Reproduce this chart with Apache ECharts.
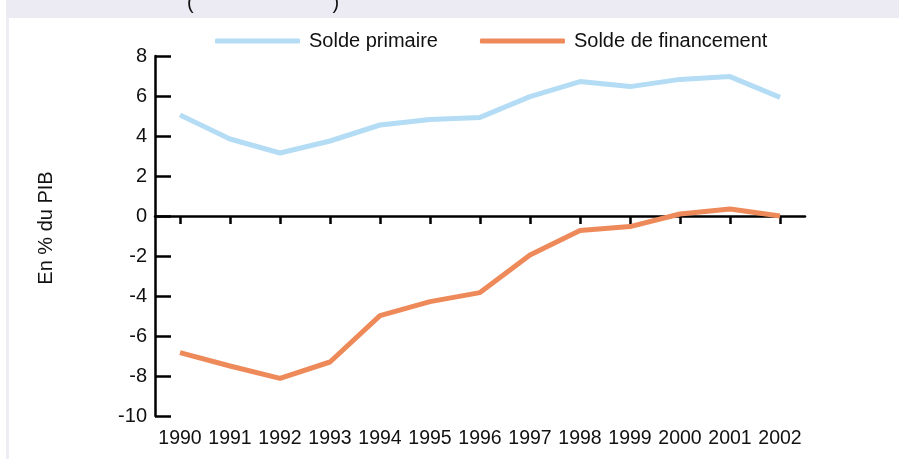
<!DOCTYPE html>
<html>
<head>
<meta charset="utf-8">
<script src="https://cdn.jsdelivr.net/npm/echarts@6/dist/echarts.min.js"></script>
<style>
  html, body { margin: 0; padding: 0; background: #ffffff; }
  #chart { width: 899px; height: 459px; }
</style>
</head>
<body>
<div id="chart"></div>
<script>
// années
var years = ['1990', '1991', '1992', '1993', '1994', '1995', '1996', '1997', '1998', '1999', '2000', '2001', '2002'];
// solde primaire, en % du PIB
var soldePrimaire = [5.05, 3.85, 3.15, 3.75, 4.55, 4.83, 4.93, 5.97, 6.72, 6.47, 6.83, 6.97, 5.93];
// solde de financement, en % du PIB
var soldeFinancement = [-6.83, -7.5, -8.12, -7.3, -4.98, -4.28, -3.83, -1.95, -0.73, -0.53, 0.1, 0.35, 0.0];
var seriesNames = ['Solde primaire', 'Solde de financement'];
var yTicks = { min: -10, max: 8, interval: 2 };

var font = 'Liberation Sans, Arial, sans-serif';
var chart = echarts.init(document.getElementById('chart'), null, { renderer: 'canvas' });

var option = {
  backgroundColor: '#ffffff',
  animation: false,
  color: ['#B4DDF5', '#EE8A5A'],
  graphic: [
    // bandeau gris du haut
    { type: 'rect', left: 6, top: 0, shape: { width: 893, height: 18 }, style: { fill: '#ECEBF4' }, z: 0 },
    // bordure gauche
    { type: 'rect', left: 6, top: 18, shape: { width: 3, height: 441 }, style: { fill: '#EEEDF5' }, z: 0 },
    // titre coupé
    {
      type: 'text', x: 187, y: 3, z: 10,
      style: { text: '(                         )', font: '20px ' + font, fill: '#111111', align: 'left', verticalAlign: 'middle' }
    },
    // titre de l'axe Y
    {
      type: 'text', x: 46, y: 228, rotation: Math.PI / 2, z: 10,
      style: { text: 'En % du PIB', font: '20px ' + font, fill: '#111111', align: 'center', verticalAlign: 'middle' }
    }
  ],
  legend: {
    left: 210,
    top: 26,
    itemWidth: 85,
    itemHeight: 5,
    itemGap: 42,
    icon: 'roundRect',
    textStyle: { fontSize: 20, fontFamily: font, color: '#111111', padding: [8, 0, 0, 4] },
    data: seriesNames
  },
  grid: {
    left: 155,
    right: 94,
    top: 56,
    bottom: 43,
    containLabel: false
  },
  xAxis: [
    {
      // axe sur le zéro : ligne et graduations
      type: 'category',
      data: years,
      position: 'bottom',
      axisLine: { onZero: true, lineStyle: { color: '#000000', width: 2.5 } },
      axisTick: { show: true, interval: 0, alignWithLabel: true, length: 8, lineStyle: { color: '#000000', width: 2.5 } },
      axisLabel: { show: false, interval: 0 },
      splitLine: { show: false }
    },
    {
      // libellés en bas du graphique
      type: 'category',
      data: years,
      position: 'bottom',
      axisLine: { show: false, onZero: false },
      axisTick: { show: false },
      axisLabel: { show: true, interval: 0, hideOverlap: false, margin: 13, fontSize: 19.5, fontFamily: font, color: '#111111' },
      splitLine: { show: false }
    }
  ],
  yAxis: {
    type: 'value',
    min: yTicks.min,
    max: yTicks.max,
    interval: yTicks.interval,
    axisLine: { show: true, lineStyle: { color: '#000000', width: 2.5 } },
    axisTick: { show: true, inside: true, length: 16, lineStyle: { color: '#000000', width: 2.5 } },
    axisLabel: { margin: 8, fontSize: 20, fontFamily: font, color: '#111111' },
    splitLine: { show: false }
  },
  series: [
    {
      name: seriesNames[0],
      type: 'line',
      xAxisIndex: 0,
      data: soldePrimaire,
      showSymbol: false,
      symbol: 'none',
      lineStyle: { width: 5, color: '#B4DDF5' },
      itemStyle: { color: '#B4DDF5' },
      z: 3
    },
    {
      name: seriesNames[1],
      type: 'line',
      xAxisIndex: 0,
      data: soldeFinancement,
      showSymbol: false,
      symbol: 'none',
      lineStyle: { width: 5, color: '#EE8A5A' },
      itemStyle: { color: '#EE8A5A' },
      z: 3
    }
  ]
};

chart.setOption(option);
</script>
</body>
</html>
